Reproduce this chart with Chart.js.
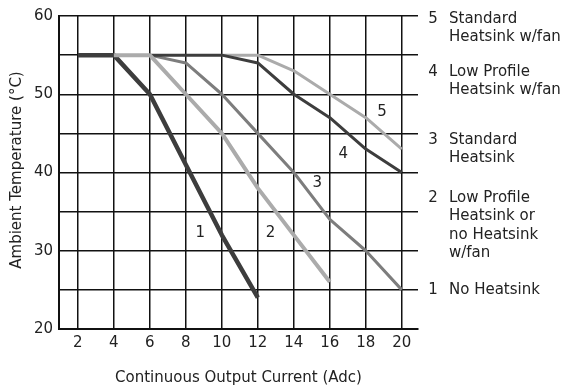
<!DOCTYPE html>
<html>
<head>
<meta charset="utf-8">
<script src="https://cdn.jsdelivr.net/npm/chart.js@4/dist/chart.umd.min.js"></script>
<style>
  html, body { margin: 0; padding: 0; background: #fff; }
  canvas { display: block; }
</style>
</head>
<body>
<canvas id="chart" width="566" height="387"></canvas>
<script>
// derating curves, current (Adc) vs max ambient temp (°C)
const curve1X = [2, 4, 6, 8, 10, 12];
const curve1Y = [55, 55, 50, 41, 32, 24];
const curve2X = [4, 6, 8, 10, 12, 14, 16];
const curve2Y = [55, 55, 50, 45, 38, 32, 26];
const curve3X = [6, 8, 10, 12, 14, 16, 18, 20];
const curve3Y = [55, 54, 50, 45, 40, 34, 30, 25];
const curve4X = [6, 10, 12, 14, 16, 18, 20];
const curve4Y = [55, 55, 54, 50, 47, 43, 40];
const curve5X = [10, 12, 14, 16, 18, 20];
const curve5Y = [55, 55, 53, 50, 47, 43];

const xTicks = [2, 4, 6, 8, 10, 12, 14, 16, 18, 20];
const yLabels = [20, 30, 40, 50, 60];

// number labels inside the plot (data coords)
const curveNames = ['1', '2', '3', '4', '5'];
const nameX = [8.8, 12.7, 15.3, 16.75, 18.9];
const nameY = [32.3, 32.3, 38.6, 42.3, 47.7];

const legendLines = [
  ['5', ['Standard', 'Heatsink w/fan']],
  ['4', ['Low Profile', 'Heatsink w/fan']],
  ['3', ['Standard', 'Heatsink']],
  ['2', ['Low Profile', 'Heatsink or', 'no Heatsink', 'w/fan']],
  ['1', ['No Heatsink']]
];
const legendTop = [19, 72, 140, 198, 290];

const DARK = '#3d3d3d', MID = '#7d7d7d', LIGHT = '#ababab';
const FONT = '"DejaVu Sans", Verdana, sans-serif';

function pts(xs, ys) {
  return xs.map((x, i) => ({ x: x, y: ys[i] }));
}

function line(data, color, width, order) {
  return {
    data: data, borderColor: color, borderWidth: width, order: order,
    pointRadius: 0, tension: 0, fill: false,
    borderJoinStyle: 'round', borderCapStyle: 'butt'
  };
}

const textPlugin = {
  id: 'texts',
  afterDraw(chart) {
    const ctx = chart.ctx;
    const xs = chart.scales.x, ys = chart.scales.y;
    const area = chart.chartArea;
    ctx.save();
    ctx.fillStyle = '#222';
    ctx.font = '15px ' + FONT;
    ctx.textAlign = 'center';
    ctx.textBaseline = 'middle';
    curveNames.forEach((n, i) => {
      ctx.fillText(n, xs.getPixelForValue(nameX[i]), ys.getPixelForValue(nameY[i]));
    });

    // right side legend
    legendLines.forEach((item, i) => {
      ctx.textAlign = 'center';
      ctx.fillText(item[0], 433, legendTop[i]);
      ctx.textAlign = 'left';
      item[1].forEach((t, j) => ctx.fillText(t, 449, legendTop[i] + j * 18.5));
    });

    // axis titles
    ctx.textAlign = 'center';
    ctx.fillText('Continuous Output Current (Adc)', (area.left + area.right) / 2, 378);
    ctx.translate(17, 170);
    ctx.rotate(-Math.PI / 2);
    ctx.fillText('Ambient Temperature (°C)', 0, 0);
    ctx.restore();
  }
};

new Chart(document.getElementById('chart'), {
  type: 'line',
  data: {
    datasets: [
      line(pts(curve1X, curve1Y), DARK, 4.5, 5),
      line(pts(curve2X, curve2Y), LIGHT, 4, 1),
      line(pts(curve3X, curve3Y), MID, 3, 4),
      line(pts(curve4X, curve4Y), DARK, 3, 2),
      line(pts(curve5X, curve5Y), LIGHT, 3, 3)
    ]
  },
  options: {
    responsive: false,
    animation: false,
    layout: { padding: { left: 0, right: 148, top: 16, bottom: 0 } },
    plugins: { legend: { display: false }, tooltip: { enabled: false } },
    scales: {
      x: {
        type: 'linear',
        min: 0.95,
        max: 20.9,
        afterBuildTicks: s => { s.ticks = xTicks.map(v => ({ value: v })); },
        afterFit: s => { s.height = 58; },
        grid: { color: '#111', lineWidth: 1.5, drawTicks: false },
        border: { display: true, color: '#111', width: 2 },
        ticks: { color: '#222', padding: 5, font: { family: FONT, size: 15 } }
      },
      y: {
        min: 20,
        max: 60,
        afterFit: s => { s.width = 59; },
        grid: { color: '#111', lineWidth: 1.5, drawTicks: false },
        border: { display: true, color: '#111', width: 2 },
        ticks: {
          stepSize: 5,
          color: '#222',
          padding: 6,
          font: { family: FONT, size: 15 },
          callback: v => yLabels.includes(v) ? v : ''
        }
      }
    }
  },
  plugins: [textPlugin]
});
</script>
</body>
</html>
